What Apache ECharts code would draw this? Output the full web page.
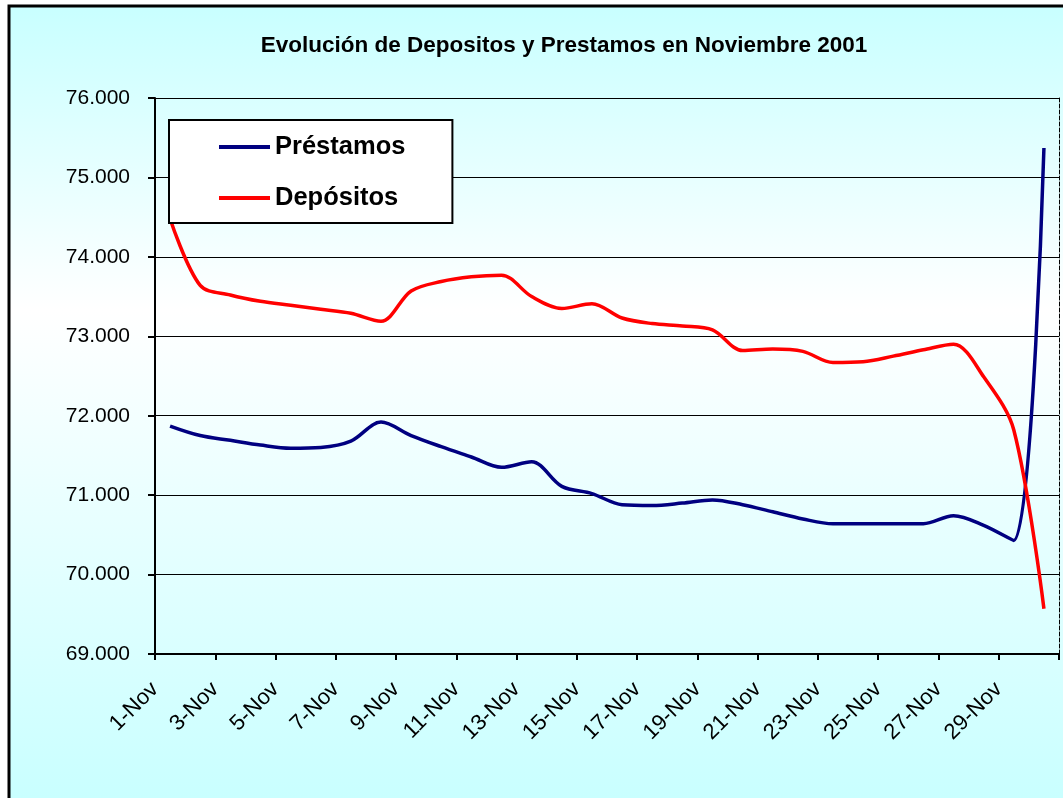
<!DOCTYPE html>
<html>
<head>
<meta charset="utf-8">
<script src="https://cdn.jsdelivr.net/npm/echarts@6/dist/echarts.min.js"></script>
<style>
  html, body { margin: 0; padding: 0; background: #fff; }
  #chart { width: 1063px; height: 798px; }
</style>
</head>
<body>
<div id="chart"></div>
<script>
// dias del mes (1 a 30 de noviembre)
const dias = ['1-Nov','2-Nov','3-Nov','4-Nov','5-Nov','6-Nov','7-Nov','8-Nov','9-Nov','10-Nov',
  '11-Nov','12-Nov','13-Nov','14-Nov','15-Nov','16-Nov','17-Nov','18-Nov','19-Nov','20-Nov',
  '21-Nov','22-Nov','23-Nov','24-Nov','25-Nov','26-Nov','27-Nov','28-Nov','29-Nov','30-Nov'];

// etiquetas del eje x, una cada dos dias
const etiquetas = ['1-Nov','3-Nov','5-Nov','7-Nov','9-Nov','11-Nov','13-Nov','15-Nov',
  '17-Nov','19-Nov','21-Nov','23-Nov','25-Nov','27-Nov','29-Nov'];

const prestamos = [71870, 71750, 71690, 71630, 71590, 71600, 71680, 71920, 71750, 71610,
  71480, 71350, 71420, 71110, 71020, 70880, 70870, 70900, 70940, 70880,
  70790, 70700, 70640, 70640, 70640, 70640, 70740, 70620, 70430, 75370];

const depositos = [74480, 73640, 73520, 73440, 73390, 73340, 73290, 73190, 73570, 73690,
  73750, 73770, 73500, 73350, 73410, 73230, 73160, 73130, 73080, 72820,
  72840, 72810, 72670, 72680, 72750, 72830, 72900, 72490, 71820, 69570];

const fuente = '"Liberation Sans", Arial, sans-serif';

const chart = echarts.init(document.getElementById('chart'));

chart.setOption({
  backgroundColor: '#ffffff',
  animation: false,
  textStyle: { fontFamily: fuente, color: '#000' },
  graphic: [{
    type: 'rect',
    z: -10,
    shape: { x: 9, y: 6, width: 1060, height: 800 },
    style: {
      fill: {
        type: 'linear', x: 0, y: 0, x2: 0, y2: 1,
        colorStops: [
          { offset: 0, color: '#c8ffff' },
          { offset: 0.38, color: '#ffffff' },
          { offset: 1, color: '#c8ffff' }
        ]
      },
      stroke: '#000',
      lineWidth: 3
    }
  }],
  title: {
    text: 'Evolución de Depositos y Prestamos en Noviembre 2001',
    left: 564,
    top: 34,
    textAlign: 'center',
    padding: 0,
    textStyle: { fontSize: 22.5, fontWeight: 'bold', color: '#000', fontFamily: fuente }
  },
  legend: {
    orient: 'vertical',
    left: 169,
    top: 120,
    padding: [14, 47, 12, 50],
    backgroundColor: '#fff',
    borderColor: '#000',
    borderWidth: 2,
    borderRadius: 0,
    itemWidth: 51,
    itemHeight: 4,
    itemGap: 25,
    icon: 'rect',
    textStyle: { fontSize: 25.5, fontWeight: 'bold', color: '#000', fontFamily: fuente, lineHeight: 26 },
    data: ['Préstamos', 'Depósitos']
  },
  grid: { left: 155, top: 98, right: 4, bottom: 144, containLabel: false },
  xAxis: {
    type: 'value',
    min: 0,
    max: 30,
    interval: 2,
    axisLine: { show: true, lineStyle: { color: '#000', width: 2 } },
    axisTick: { show: true, length: 6, lineStyle: { color: '#000', width: 2 } },
    splitLine: { show: false },
    axisLabel: {
      rotate: 45,
      margin: 32,
      fontSize: 22,
      color: '#000',
      fontFamily: fuente,
      showMaxLabel: true,
      formatter: function (v) { return etiquetas[v / 2] || ''; }
    }
  },
  yAxis: [{
    type: 'value',
    min: 69000,
    max: 76000,
    interval: 1000,
    axisLine: { show: true, lineStyle: { color: '#000', width: 2 } },
    axisTick: { show: true, length: 7, lineStyle: { color: '#000', width: 2 } },
    splitLine: { show: true, lineStyle: { color: '#000', width: 1 } },
    axisLabel: {
      margin: 25,
      fontSize: 21,
      color: '#000',
      fontFamily: fuente,
      formatter: function (v) { return (v / 1000).toFixed(3); }
    }
  }, {
    type: 'value',
    position: 'right',
    min: 69000,
    max: 76000,
    interval: 1000,
    axisLine: { show: true, lineStyle: { color: '#000', width: 1, type: 'dashed' } },
    axisTick: { show: false },
    axisLabel: { show: false },
    splitLine: { show: false }
  }],
  series: [{
    name: 'Préstamos',
    type: 'line',
    symbol: 'none',
    smooth: 0.33,
    lineStyle: { color: '#000080', width: 3.5 },
    itemStyle: { color: '#000080' },
    data: dias.map((d, i) => [i + 0.5, prestamos[i]])
  }, {
    name: 'Depósitos',
    type: 'line',
    symbol: 'none',
    smooth: 0.33,
    lineStyle: { color: '#ff0000', width: 3.5 },
    itemStyle: { color: '#ff0000' },
    data: dias.map((d, i) => [i + 0.5, depositos[i]])
  }]
});
</script>
</body>
</html>
